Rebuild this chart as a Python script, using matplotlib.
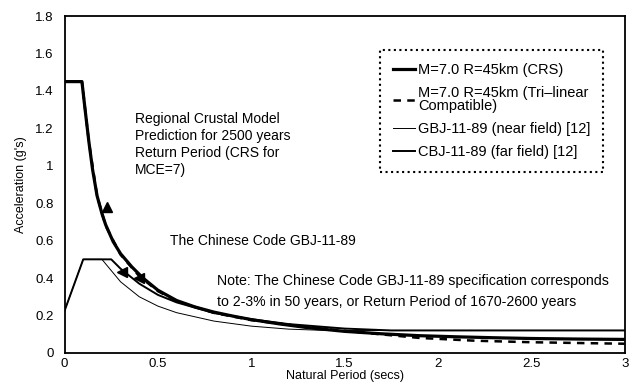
import matplotlib
matplotlib.use("Agg")
import matplotlib.pyplot as plt

# Period (s) and spectral acceleration (g) for each spectrum
crs_T = [0, 0.093, 0.11, 0.13, 0.15, 0.174, 0.2, 0.22, 0.26, 0.3, 0.36, 0.42, 0.5, 0.6,
         0.7, 0.8, 0.9, 1.0, 1.15, 1.3, 1.5, 1.7, 1.9, 2.1, 2.3, 2.5, 2.75, 3.0]
crs_A = [1.45, 1.45, 1.30, 1.13, 0.98, 0.84, 0.745, 0.685, 0.595, 0.53, 0.46, 0.40, 0.335,
         0.28, 0.245, 0.218, 0.197, 0.178, 0.155, 0.135, 0.115, 0.102, 0.092, 0.086, 0.081,
         0.077, 0.074, 0.072]

tri_T = [0, 0.093, 0.13, 0.174, 0.22, 0.3, 0.4, 0.5, 0.6, 0.8, 1.0, 1.3, 1.6, 1.9, 2.2,
         2.5, 2.8, 3.0]
tri_A = [1.45, 1.45, 1.13, 0.84, 0.68, 0.525, 0.41, 0.33, 0.277, 0.214, 0.175, 0.138,
         0.108, 0.08, 0.065, 0.057, 0.052, 0.049]

near_T = [0, 0.1, 0.2, 0.25, 0.3, 0.4, 0.5, 0.6, 0.8, 1.0, 1.2, 1.4, 3.0]
near_A = [0.225, 0.5, 0.5, 0.44, 0.38, 0.3, 0.25, 0.215, 0.17, 0.143, 0.127, 0.12, 0.12]

far_T = [0, 0.1, 0.25, 0.3, 0.4, 0.5, 0.6, 0.8, 1.0, 1.2, 1.5, 1.75, 3.0]
far_A = [0.225, 0.5, 0.5, 0.45, 0.37, 0.31, 0.27, 0.213, 0.18, 0.154, 0.13, 0.12, 0.12]

# Arrow tips pointing at the curves
tip_T = [0.225, 0.31, 0.40]
tip_A = [0.78, 0.43, 0.40]

labels = ["M=7.0 R=45km (CRS)",
          "M=7.0 R=45km (Tri\u2013linear\nCompatible)",
          "GBJ-11-89 (near field) [12]",
          "CBJ-11-89 (far field) [12]"]

plt.rcParams['font.family'] = ['Liberation Sans', 'DejaVu Sans']

fig = plt.figure(figsize=(6.33, 3.84), dpi=100)
ax = fig.add_axes([0.102, 0.081, 0.885, 0.877])

ax.plot(crs_T, crs_A, color='black', lw=2.3, label=labels[0])
ax.plot(tri_T, tri_A, color='black', lw=1.8, ls=(0, (3, 2.5)), label=labels[1])
ax.plot(near_T, near_A, color='black', lw=0.7, label=labels[2])
ax.plot(far_T, far_A, color='black', lw=1.4, label=labels[3])
ax.plot(tip_T[:1], tip_A[:1], marker='^', color='black', ms=7, ls='none')
ax.plot(tip_T[1:], tip_A[1:], marker='<', color='black', ms=7, ls='none')

ax.set_xlim(0, 3)
ax.set_ylim(0, 1.8)
ax.set_xticks([0, 0.5, 1, 1.5, 2, 2.5, 3])
ax.set_xticklabels(["0", "0.5", "1", "1.5", "2", "2.5", "3"])
ax.set_yticks([0, 0.2, 0.4, 0.6, 0.8, 1.0, 1.2, 1.4, 1.6, 1.8])
ax.set_yticklabels(["0", "0.2", "0.4", "0.6", "0.8", "1", "1.2", "1.4", "1.6", "1.8"])
ax.tick_params(axis='y', length=0, labelsize=9.5, pad=8)
ax.tick_params(axis='x', length=0, labelsize=9.5, pad=4)
for s in ax.spines.values():
    s.set_linewidth(1.3)

ax.set_xlabel("Natural Period (secs)", fontsize=9, labelpad=0)
ax.set_ylabel("Acceleration (g's)", fontsize=9, labelpad=6)

ax.text(0.377, 1.29, "Regional Crustal Model\nPrediction for 2500 years\nReturn Period (CRS for\nMCE=7)",
        fontsize=10, va='top', ha='left', linespacing=1.3)
ax.text(0.565, 0.60, "The Chinese Code GBJ-11-89", fontsize=10, va='center', ha='left')
ax.text(0.815, 0.33, "Note: The Chinese Code GBJ-11-89 specification corresponds\n"
        "to 2-3% in 50 years, or Return Period of 1670-2600 years",
        fontsize=10.2, va='center', ha='left', linespacing=1.65)

leg = ax.legend(loc='upper right', bbox_to_anchor=(0.962, 0.9), fontsize=10.5,
                handlelength=1.5, handletextpad=0.2, labelspacing=0.6,
                borderpad=0.9, borderaxespad=0, fancybox=False, framealpha=1,
                edgecolor='black')
for t in leg.get_texts():
    t.set_linespacing(0.95)
leg.get_frame().set_linestyle(':')
leg.get_frame().set_linewidth(1.5)

fig.savefig("out.png", dpi=100)
